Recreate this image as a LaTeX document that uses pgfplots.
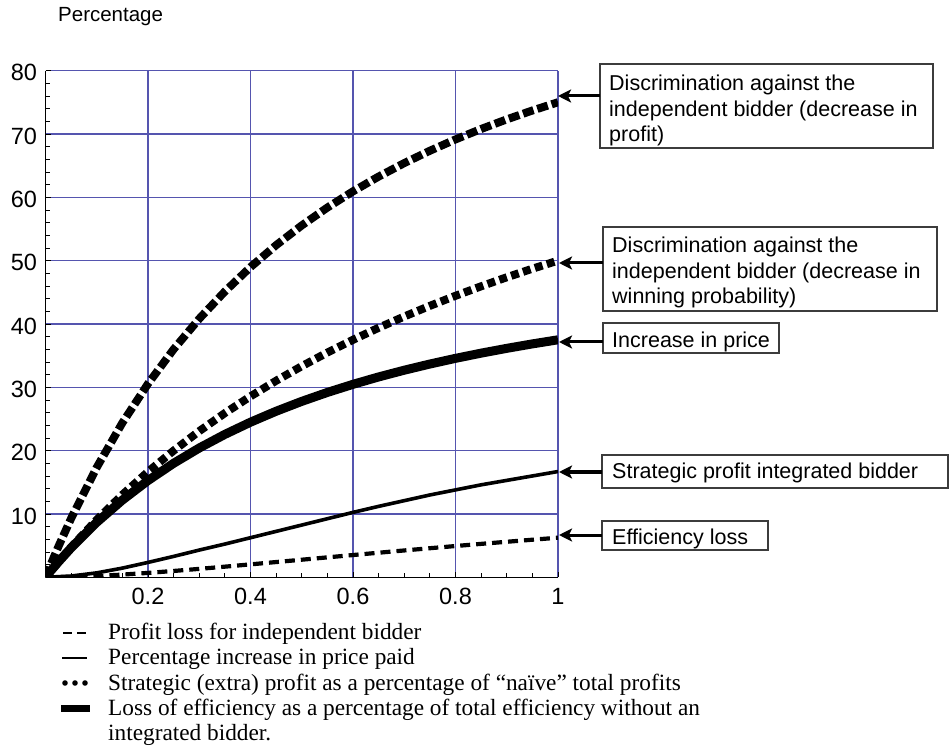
\documentclass[border=0pt]{standalone}
\usepackage{fontspec}
\setmainfont{Liberation Sans}
\newfontfamily\timesfont{Liberation Serif}
\usepackage{pgfplots}
\pgfplotsset{compat=1.18}
\usetikzlibrary{arrows.meta}
\definecolor{gridblue}{RGB}{85,85,175}
\definecolor{boxgray}{RGB}{60,60,60}

\begin{document}
\begin{tikzpicture}[x=1pt,y=1pt]
\useasboundingbox (0,0) rectangle (950,753);
\begin{axis}[
  at={(45.5pt,175.7pt)}, anchor=south west,
  scale only axis, width=512.5pt, height=506.7pt,
  xmin=0, xmax=1, ymin=0, ymax=80,
  axis x line*=bottom, axis y line*=left,
  axis line style={black, line width=1.5pt},
  xtick={0.2,0.4,0.6,0.8,1}, xticklabels={0.2,0.4,0.6,0.8,1},
  ytick={10,20,30,40,50,60,70,80},
  minor xtick={0.05,0.1,0.15,0.25,0.3,0.35,0.45,0.5,0.55,0.65,0.7,0.75,0.85,0.9,0.95},
  minor ytick={2,4,6,8,12,14,16,18,22,24,26,28,32,34,36,38,42,44,46,48,52,54,56,58,62,64,66,68,72,74,76,78},
  grid=major, major grid style={gridblue, line width=1.2pt},
  tick align=inside, tick style={black, line width=0.8pt},
  major tick length=5pt, minor tick length=4pt,
  /pgf/number format/assume math mode=true,
  ticklabel style={font=\fontsize{23.5}{23.5}\selectfont},
  xticklabel style={yshift=-7pt},
  yticklabel style={xshift=-5pt, yshift=-2pt},
]
% Discrimination: decrease in profit (thick dashed)
\addplot[black, line width=8pt, dash pattern=on 11pt off 4pt] coordinates {
(0,0) (0.01,1.970) (0.025,4.819) (0.05,9.297) (0.1,17.355) (0.15,24.386) (0.2,30.556)
(0.25,36.0) (0.3,40.828) (0.35,45.130) (0.4,48.980) (0.45,52.438) (0.5,55.556)
(0.55,58.377) (0.6,60.938) (0.65,63.269) (0.7,65.398) (0.75,67.347) (0.8,69.136)
(0.85,70.782) (0.9,72.299) (0.95,73.702) (1,75.0)};
% Discrimination: decrease in winning probability (squares)
\addplot[black, line width=8pt, dash pattern=on 8pt off 4.5pt] coordinates {
(0,0) (0.05,4.762) (0.1,9.091) (0.15,13.043) (0.2,16.667) (0.25,20.0) (0.3,23.077)
(0.35,25.926) (0.4,28.571) (0.45,31.034) (0.5,33.333) (0.55,35.484) (0.6,37.5)
(0.65,39.394) (0.7,41.176) (0.75,42.857) (0.8,44.444) (0.85,45.946) (0.9,47.368)
(0.95,48.718) (1,50.0)};
% Increase in price (thick solid)
\addplot[black, line width=9pt] coordinates {
(0,0) (0.01,0.985) (0.025,2.410) (0.05,4.649) (0.1,8.678) (0.15,12.193) (0.2,15.278)
(0.25,18.0) (0.3,20.414) (0.35,22.565) (0.4,24.490) (0.45,26.219) (0.5,27.778)
(0.55,29.189) (0.6,30.469) (0.65,31.635) (0.7,32.699) (0.75,33.673) (0.8,34.568)
(0.85,35.391) (0.9,36.149) (0.95,36.851) (1,37.5)};
% Strategic profit integrated bidder (thin solid)
\addplot[black, line width=3.6pt] coordinates {
(0,0) (0.05,0.2) (0.1,0.7) (0.15,1.45) (0.2,2.35) (0.25,3.3) (0.3,4.3) (0.35,5.25)
(0.4,6.25) (0.45,7.25) (0.5,8.25) (0.55,9.25) (0.6,10.25) (0.65,11.2) (0.7,12.1)
(0.75,13.0) (0.8,13.8) (0.85,14.6) (0.9,15.3) (0.95,16.0) (1,16.7)};
% Efficiency loss (thin dashed)
\addplot[black, line width=4.2pt, dash pattern=on 10pt off 6pt] coordinates {
(0,0) (0.05,0.057) (0.1,0.207) (0.15,0.425) (0.2,0.694) (0.25,1.0) (0.3,1.331)
(0.35,1.680) (0.4,2.041) (0.45,2.408) (0.5,2.778) (0.55,3.148) (0.6,3.516)
(0.65,3.880) (0.7,4.239) (0.75,4.592) (0.8,4.938) (0.85,5.278) (0.9,5.609)
(0.95,5.934) (1,6.25)};
\end{axis}

% axis title
\node[anchor=west, inner sep=0, font=\fontsize{20.5}{20.5}\selectfont] at (58,753-17) {Percentage};

% annotation boxes
\tikzset{abox/.style={draw=boxgray, line width=1.2pt},
         atext/.style={anchor=north west, align=left, inner sep=0, font=\fontsize{21.5}{25.5}\selectfont},
         aarrow/.style={line width=3pt, -{Stealth[length=13pt,width=13pt,inset=3pt]}}}
\draw[abox] (600,753-64) rectangle (933,753-148);
\node[atext] at (609,753-75) {Discrimination against the\\independent bidder (decrease in\\profit)};
\draw[aarrow] (600,753-96) -- (558,753-96);

\draw[abox] (603,753-227) rectangle (937,753-311);
\node[atext] at (612,753-237) {Discrimination against the\\independent bidder (decrease in\\winning probability)};
\draw[aarrow] (603,753-263) -- (559,753-263);

\draw[abox] (603,753-323) rectangle (779,753-353);
\node[atext] at (612,753-332) {Increase in price};
\draw[aarrow] (603,753-342) -- (559,753-342);

\draw[abox] (602,753-455) rectangle (948,753-488);
\node[atext] at (612,753-463) {Strategic profit integrated bidder};
\draw[aarrow] (602,753-472) -- (559,753-472);

\draw[abox] (602,753-521) rectangle (768,753-550);
\node[atext] at (612,753-529) {Efficiency loss};
\draw[aarrow] (602,753-535) -- (559,753-535);

% legend below
\draw[black, line width=2.5pt, dash pattern=on 9pt off 5pt] (63,753-633) -- (86,753-633);
\draw[black, line width=2.4pt] (62,753-658) -- (87,753-658);
\fill[black] (65,753-683) circle (2.8pt) (75,753-683) circle (2.8pt) (85,753-683) circle (2.8pt);
\fill[black] (61,753-712) rectangle (90,753-705);
\node[anchor=north west, align=left, inner sep=0, font=\timesfont\fontsize{23.3}{25.3}\selectfont] at (108,753-623)
{Profit loss for independent bidder\\
Percentage increase in price paid\\
Strategic (extra) profit as a percentage of “naïve” total profits\\
Loss of efficiency as a percentage of total efficiency without an\\
integrated bidder.};
\end{tikzpicture}
\end{document}
